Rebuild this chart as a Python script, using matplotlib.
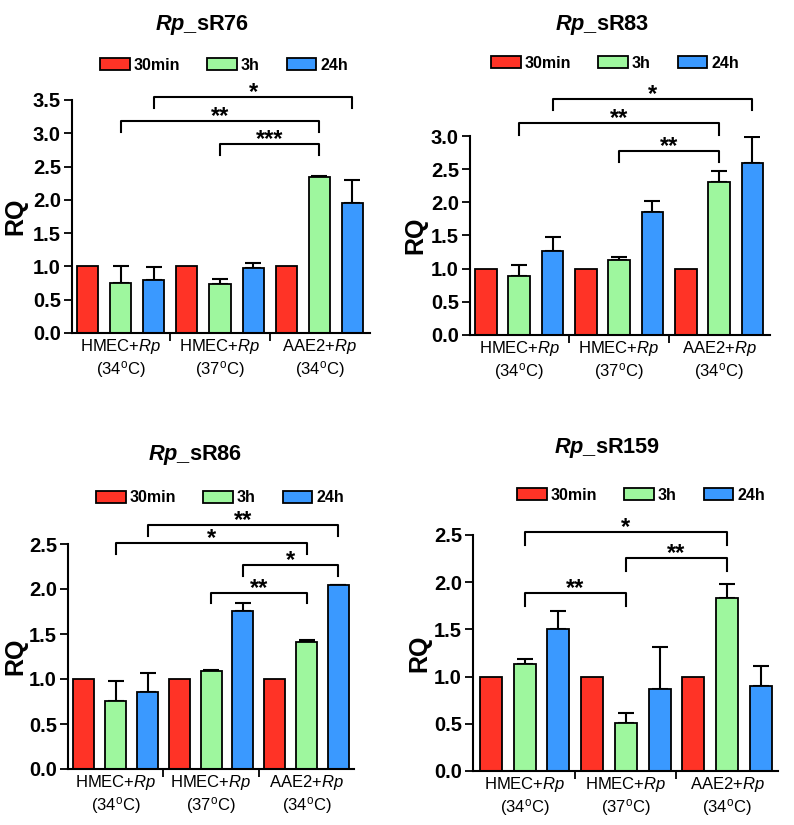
import matplotlib
matplotlib.use("Agg")
import matplotlib.pyplot as plt
import numpy as np

plt.rcParams.update({
    'font.family': ['Liberation Sans', 'DejaVu Sans'],
    'mathtext.fontset': 'custom',
    'mathtext.rm': 'Liberation Sans',
    'mathtext.it': 'Liberation Sans:italic',
    'mathtext.bf': 'Liberation Sans:bold',
    'mathtext.bfit': 'Liberation Sans:italic:bold',
})

# ---------------- data ----------------
series = ['30min', '3h', '24h']
groups = ['HMEC+$\\mathit{Rp}$\n(34$^{\\mathrm{o}}$C)',
          'HMEC+$\\mathit{Rp}$\n(37$^{\\mathrm{o}}$C)',
          'AAE2+$\\mathit{Rp}$\n(34$^{\\mathrm{o}}$C)']
titles = ['sR76', 'sR83', 'sR86', 'sR159']

# values per panel: rows = groups, cols = series
sR76_mean = [[1.0, 0.75, 0.79], [1.0, 0.74, 0.98], [1.0, 2.34, 1.95]]
sR76_err = [[0.0, 0.25, 0.20], [0.0, 0.07, 0.07], [0.0, 0.02, 0.35]]
sR83_mean = [[1.0, 0.89, 1.27], [1.0, 1.13, 1.86], [1.0, 2.31, 2.59]]
sR83_err = [[0.0, 0.17, 0.21], [0.0, 0.04, 0.16], [0.0, 0.16, 0.39]]
sR86_mean = [[1.0, 0.76, 0.86], [1.0, 1.09, 1.76], [1.0, 1.41, 2.04]]
sR86_err = [[0.0, 0.22, 0.21], [0.0, 0.01, 0.08], [0.0, 0.02, 0.01]]
sR159_mean = [[1.0, 1.13, 1.50], [1.0, 0.51, 0.87], [1.0, 1.83, 0.90]]
sR159_err = [[0.0, 0.06, 0.20], [0.0, 0.10, 0.44], [0.0, 0.15, 0.21]]

ymax = [3.5, 3.0, 2.5, 2.5]

# brackets: (group_a, series_a, group_b, series_b, height, drop, label)
sR76_brackets = [(0, 2, 2, 2, 3.55, 0.17, '*'),
                 (0, 1, 2, 1, 3.19, 0.17, '**'),
                 (1, 1, 2, 1, 2.84, 0.17, '***')]
sR83_brackets = [(0, 2, 2, 2, 3.56, 0.17, '*'),
                 (0, 1, 2, 1, 3.19, 0.17, '**'),
                 (1, 1, 2, 1, 2.78, 0.17, '**')]
sR86_brackets = [(0, 2, 2, 2, 2.71, 0.12, '**'),
                 (0, 1, 2, 1, 2.51, 0.12, '*'),
                 (1, 2, 2, 2, 2.27, 0.12, '*'),
                 (1, 1, 2, 1, 1.96, 0.12, '**')]
sR159_brackets = [(0, 1, 2, 1, 2.53, 0.14, '*'),
                  (1, 1, 2, 1, 2.26, 0.14, '**'),
                  (0, 1, 1, 1, 1.89, 0.14, '**')]

means = [sR76_mean, sR83_mean, sR86_mean, sR159_mean]
errs = [sR76_err, sR83_err, sR86_err, sR159_err]
brackets = [sR76_brackets, sR83_brackets, sR86_brackets, sR159_brackets]

colors = ['#FF3326', '#9EF79E', '#3A99FF']

# ---------------- layout (pixels) ----------------
W, H = 794, 825
# left, right, top, bottom of axes in px
axes_px = [(72, 370, 100, 333), (470, 770, 136, 335),
           (68, 354, 544, 769), (473, 778, 535, 771)]
xpad = [(0.47, 0.53), (0.48, 0.53), (0.50, 0.49), (0.53, 0.51)]
bar_w = [0.64, 0.65, 0.66, 0.65]
title_px = [(202, 25), (602, 25), (195, 455), (607, 448)]
legend_px = [(224, 65), (615, 63), (220, 498), (641, 495)]
ylabel_x = [-0.15, -0.142, -0.142, -0.137]

fig = plt.figure(figsize=(W / 100, H / 100), dpi=100)

for p in range(4):
    l, r, t, b = axes_px[p]
    ax = fig.add_axes([l / W, 1 - b / H, (r - l) / W, (b - t) / H])
    m = np.array(means[p])
    e = np.array(errs[p])
    handles = []
    for s in range(3):
        xs = np.arange(3) * 3 + s
        bars = ax.bar(xs, m[:, s], width=bar_w[p], color=colors[s],
                      edgecolor='black', linewidth=1.3, zorder=2,
                      label=series[s])
        handles.append(bars)
        has = e[:, s] > 0
        if has.any():
            ax.errorbar(xs[has], m[has, s],
                        yerr=[np.zeros(has.sum()), e[has, s]],
                        fmt='none', ecolor='black', elinewidth=1.5,
                        capsize=5.5, capthick=1.5, zorder=1)
    ax.set_xlim(-xpad[p][0], 8 + xpad[p][1])
    ax.set_ylim(0, ymax[p])
    ticks = np.arange(0, ymax[p] + 0.01, 0.5)
    ax.set_yticks(ticks)
    ax.set_yticklabels([f'{v:.1f}' for v in ticks],
                       fontsize=14.5, fontweight='bold')
    ax.set_xticks([2.5, 5.5])
    ax.set_xticklabels(['', ''])
    ax.set_xticks([1, 4, 7], minor=True)
    ax.set_xticklabels(groups, minor=True, fontsize=12, linespacing=1.2)
    ax.tick_params(axis='x', which='minor', length=0, pad=3)
    ax.tick_params(axis='x', which='major', length=6, width=1.3, direction='out')
    ax.tick_params(axis='y', length=6, width=1.3, direction='out', pad=2)
    for sp in ['top', 'right']:
        ax.spines[sp].set_visible(False)
    for sp in ['left', 'bottom']:
        ax.spines[sp].set_linewidth(1.5)
    ax.set_ylabel('RQ', fontsize=18, fontweight='bold')
    ax.yaxis.set_label_coords(ylabel_x[p], 0.5)

    for (ga, sa, gb, sb, hgt, drop, lab) in brackets[p]:
        xa = ga * 3 + sa
        xb = gb * 3 + sb
        ax.plot([xa, xa, xb, xb], [hgt - drop, hgt, hgt, hgt - drop],
                color='black', lw=1.5, clip_on=False, zorder=3)
        ax.annotate(lab, xy=((xa + xb) / 2, hgt), xytext=(0, -1.5),
                    textcoords='offset points', ha='center', va='baseline',
                    fontsize=17, fontweight='bold', annotation_clip=False)

    lx, ly = legend_px[p]
    fig.legend(handles=handles, labels=series, loc='center',
               bbox_to_anchor=(lx / W, 1 - ly / H), ncol=3, frameon=False,
               handlelength=1.85, handleheight=0.7, handletextpad=0.25,
               columnspacing=1.7, prop={'weight': 'bold', 'size': 11.5})

    tx, ty = title_px[p]
    fig.text(tx / W, 1 - ty / H, '$\\mathbfit{Rp}$_' + titles[p],
             ha='center', va='center', fontsize=15.7, fontweight='bold')

fig.savefig('out.png', dpi=100, facecolor='white')
